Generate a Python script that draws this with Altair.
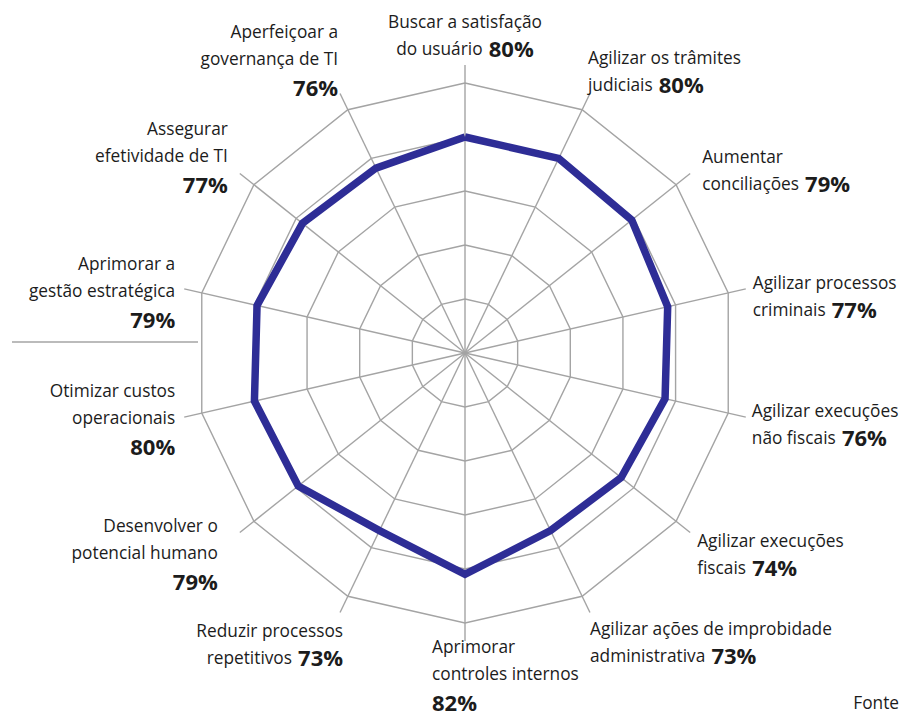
import math
import altair as alt
import pandas as pd

# ---------------- data ----------------
axis_labels = [
    ["Buscar a satisfação", "do usuário"],
    ["Agilizar os trâmites", "judiciais"],
    ["Aumentar", "conciliações"],
    ["Agilizar processos", "criminais"],
    ["Agilizar execuções", "não fiscais"],
    ["Agilizar execuções", "fiscais"],
    ["Agilizar ações de improbidade", "administrativa"],
    ["Aprimorar", "controles internos"],
    ["Reduzir processos", "repetitivos"],
    ["Desenvolver o", "potencial humano"],
    ["Otimizar custos", "operacionais"],
    ["Aprimorar a", "gestão estratégica"],
    ["Assegurar", "efetividade de TI"],
    ["Aperfeiçoar a", "governança de TI"],
]
values = [80, 80, 79, 77, 76, 74, 73, 82, 73, 79, 80, 79, 77, 76]
grid_levels = [20, 40, 60, 80, 100]
source_text = "Fonte"

# ---------------- layout / style ----------------
W, H = 893, 708
CX, CY = 457, 345          # centre of the radar inside the plot area (px)
K = 2.7                    # px per percentage point
SPOKE = 288 / K            # spoke length in data units
FONT = "Open Sans"
REG = 17.3
BOLD = 22
LINE = 27
GAP = 6
TEXT_COLOR = "#1c1c1c"
GRID_COLOR = "#a4a4a4"
BLUE = "#2e2d96"

# per axis: alignment, x offset (px), first-line y offset (px, down) from spoke end,
# and whether the percentage sits at the end of the 2nd line
LAYOUT = [
    ("center", 0, -42, True),
    ("left", -2, -35, True),
    ("left", 12, -15, True),
    ("left", 7, -5, True),
    ("left", 6, -5, True),
    ("left", 7, 9, True),
    ("left", 0, 18, True),
    ("left", -33, 7, False),
    ("right", 3, 20, True),
    ("right", -22, -6, False),
    ("right", -9, -25, False),
    ("right", -9, -24, False),
    ("right", -12, -43, False),
    ("right", -2, -61, False),
]

# approximate Open Sans regular advance widths (units per em = 2048)
ADV = {" ": 532, "a": 1139, "b": 1255, "c": 975, "d": 1255, "e": 1149, "f": 694,
       "g": 1122, "h": 1257, "i": 518, "j": 518, "k": 1075, "l": 518, "m": 1905,
       "n": 1257, "o": 1237, "p": 1255, "q": 1255, "r": 836, "s": 977, "t": 723,
       "u": 1257, "v": 1026, "w": 1593, "x": 1073, "y": 1028, "z": 979,
       "A": 1296, "B": 1327, "C": 1292, "D": 1479, "E": 1139, "F": 1057, "G": 1473,
       "H": 1503, "I": 571, "O": 1593, "R": 1278, "T": 1110}
BASE = {"ç": "c", "ã": "a", "á": "a", "â": "a", "é": "e", "õ": "o", "ó": "o", "í": "i", "ú": "u"}


def text_w(s, size):
    tot = 0
    for ch in s:
        ch = BASE.get(ch, ch)
        tot += ADV.get(ch, 1150)
    return tot / 2048 * size


def pct_w(size):
    return (2 * 1171 + 1850) / 2048 * size


n = len(values)
angles = [2 * math.pi * i / n for i in range(n)]

# grid rings
ring_rows = []
for lv in grid_levels:
    for j in range(n + 1):
        a = angles[j % n]
        ring_rows.append({"level": lv, "idx": j, "x": lv * math.sin(a), "y": lv * math.cos(a)})
rings = pd.DataFrame(ring_rows)

# spokes
spokes = pd.DataFrame({
    "x0": [0.0] * n, "y0": [0.0] * n,
    "x1": [SPOKE * math.sin(a) for a in angles],
    "y1": [SPOKE * math.cos(a) for a in angles],
})

# value polygon
poly = pd.DataFrame({
    "idx": list(range(n + 1)),
    "value": values + [values[0]],
    "ang": angles + [angles[0]],
})

# labels
text_rows = []
for i in range(n):
    align, dx, dy, inline = LAYOUT[i]
    px = CX + SPOKE * K * math.sin(angles[i]) + dx
    py = CY - SPOKE * K * math.cos(angles[i]) + dy
    l1, l2 = axis_labels[i]
    ptxt = f"{values[i]}%"
    wp = pct_w(BOLD)
    y1, y2 = py, py + LINE
    if inline:
        w2 = text_w(l2, REG)
        if align == "left":
            text_rows += [(px, y1, l1, "left", 0), (px, y2, l2, "left", 0),
                          (px + w2 + GAP, y2, ptxt, "left", 1)]
        elif align == "right":
            text_rows += [(px, y1, l1, "right", 0), (px - wp - GAP, y2, l2, "right", 0),
                          (px, y2, ptxt, "right", 1)]
        else:
            tot = w2 + GAP + wp
            st = px - tot / 2
            text_rows += [(px, y1, l1, "center", 0), (st, y2, l2, "left", 0),
                          (st + w2 + GAP, y2, ptxt, "left", 1)]
    else:
        text_rows += [(px, y1, l1, align, 0), (px, y2, l2, align, 0),
                      (px, y2 + LINE + 2, ptxt, align, 1)]

texts = pd.DataFrame([
    {"x": (tx - CX) / K, "y": (CY - ty) / K, "text": t, "align": al, "bold": b}
    for tx, ty, t, al, b in text_rows
])

xs = alt.Scale(domain=[-CX / K, (W - CX) / K], nice=False, zero=False)
ys = alt.Scale(domain=[-(H - CY) / K, CY / K], nice=False, zero=False)

ring_layer = alt.Chart(rings).mark_line(color=GRID_COLOR, strokeWidth=1.4).encode(
    x=alt.X("x:Q", scale=xs, axis=None),
    y=alt.Y("y:Q", scale=ys, axis=None),
    detail="level:N",
    order="idx:Q",
)

spoke_layer = alt.Chart(spokes).mark_rule(color=GRID_COLOR, strokeWidth=1.4).encode(
    x=alt.X("x0:Q", scale=xs, axis=None),
    y=alt.Y("y0:Q", scale=ys, axis=None),
    x2="x1:Q",
    y2="y1:Q",
)

value_layer = alt.Chart(poly).transform_calculate(
    px="datum.value * sin(datum.ang)",
    py="datum.value * cos(datum.ang)",
).mark_line(color=BLUE, strokeWidth=7.5, strokeJoin="miter").encode(
    x=alt.X("px:Q", scale=xs, axis=None),
    y=alt.Y("py:Q", scale=ys, axis=None),
    order="idx:Q",
)

text_layers = []
for al in ["left", "right", "center"]:
    for b in [0, 1]:
        sub = texts[(texts["align"] == al) & (texts["bold"] == b)]
        if len(sub) == 0:
            continue
        text_layers.append(
            alt.Chart(sub).mark_text(
                align=al, baseline="middle", font=FONT,
                fontSize=BOLD if b else REG,
                fontWeight="bold" if b else "normal",
                color=TEXT_COLOR,
            ).encode(
                x=alt.X("x:Q", scale=xs, axis=None),
                y=alt.Y("y:Q", scale=ys, axis=None),
                text="text:N",
            )
        )

deco = alt.Chart(pd.DataFrame({"a": [0]})).mark_rule(color=GRID_COLOR, strokeWidth=1.4).encode(
    x=alt.value(4), x2=alt.value(190), y=alt.value(334)
)

source = alt.Chart(pd.DataFrame({"t": [source_text]})).mark_text(
    align="right", baseline="middle", font=FONT, fontSize=REG, color=TEXT_COLOR
).encode(x=alt.value(891), y=alt.value(696), text="t:N")

chart = alt.layer(ring_layer, spoke_layer, value_layer, deco, source, *text_layers).properties(
    width=W, height=H, padding=0,
    autosize=alt.AutoSizeParams(type="none"),
    background="white",
).configure_view(stroke=None)

chart.save("out.html", embed_options={"renderer": "svg", "actions": False})
